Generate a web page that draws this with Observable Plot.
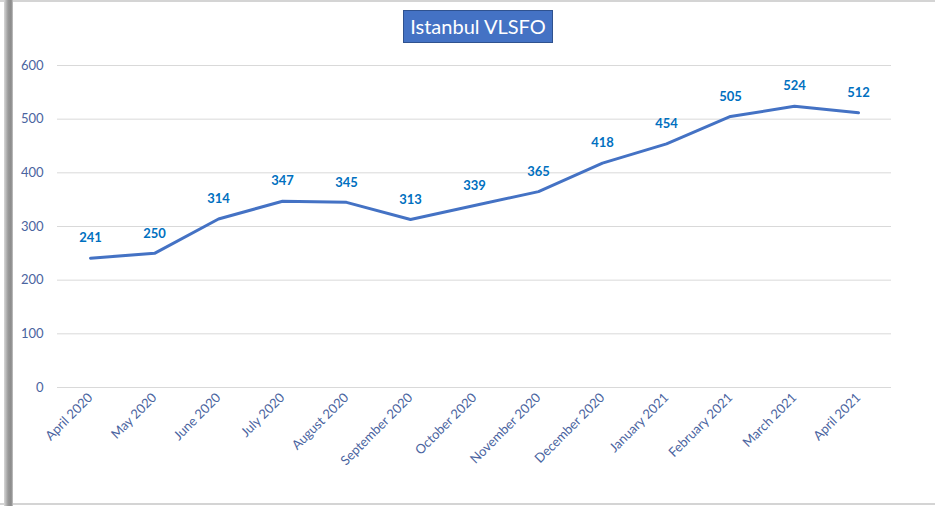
<!DOCTYPE html>
<html>
<head>
<meta charset="utf-8">
<script src="https://cdn.jsdelivr.net/npm/d3@7"></script>
<script src="https://cdn.jsdelivr.net/npm/@observablehq/plot@0.6"></script>
<style>
  html, body { margin: 0; padding: 0; background: #fff; }
  #wrap { position: relative; width: 935px; height: 506px; overflow: hidden; font-family: Lato, "Open Sans", sans-serif; }
  #topline { position: absolute; left: 0; top: 0; width: 935px; height: 2px; background: #d4d4d4; }
  #botline { position: absolute; left: 0; top: 503px; width: 935px; height: 2px; background: #d4d4d4; }
  #leftbar { position: absolute; left: 4px; top: 0; width: 9px; height: 506px; background: linear-gradient(to right, #d8d8d8, #9a9a9a 45%, #8a8a8a 80%, #c8c8c8); }
  #title { position: absolute; left: 403px; top: 10px; width: 148px; height: 31px; background: #4472C4; border: 1px solid #2F528F; color: #fff; font-size: 20px; line-height: 31px; text-align: center; font-family: Lato, "Open Sans", sans-serif; }
  #chart { position: absolute; left: 0; top: 0; }
</style>
</head>
<body>
<div id="wrap">
  <div id="chart"></div>
  <div id="topline"></div>
  <div id="botline"></div>
  <div id="leftbar"></div>
  <div id="title">Istanbul VLSFO</div>
</div>
<script>
const months = ["April 2020","May 2020","June 2020","July 2020","August 2020","September 2020","October 2020","November 2020","December 2020","January 2021","February 2021","March 2021","April 2021"];
const prices = [241,250,314,347,345,313,339,365,418,454,505,524,512];
const yTicks = [0,100,200,300,400,500,600];

const data = months.map((m, i) => ({month: m, price: prices[i]}));

const chart = Plot.plot({
  width: 935,
  height: 506,
  marginLeft: 57,
  marginRight: 44,
  marginTop: 65,
  marginBottom: 119,
  style: {fontFamily: "Lato, 'Open Sans', sans-serif", background: "transparent"},
  x: {type: "point", domain: months, padding: 0.5, label: null},
  y: {domain: [0, 600], label: null},
  marks: [
    Plot.gridY(yTicks, {stroke: "#d9d9d9", strokeOpacity: 1, strokeWidth: 1}),
    Plot.axisY(yTicks, {tickSize: 0, tickPadding: 14, fill: "#4a64a0", fontSize: 13, label: null}),
    Plot.axisX(months, {tickSize: 0, tickPadding: 8, tickRotate: -45, textAnchor: "end", fill: "#4a64a0", fontSize: 13, label: null}),
    Plot.line(data, {x: "month", y: "price", stroke: "#4472C4", strokeWidth: 3, curve: "linear"}),
    Plot.text(data, {x: "month", y: "price", text: d => String(d.price), dy: -20, fill: "#0070C0", fontWeight: "bold", fontSize: 13})
  ]
});
document.getElementById("chart").appendChild(chart);
</script>
</body>
</html>
